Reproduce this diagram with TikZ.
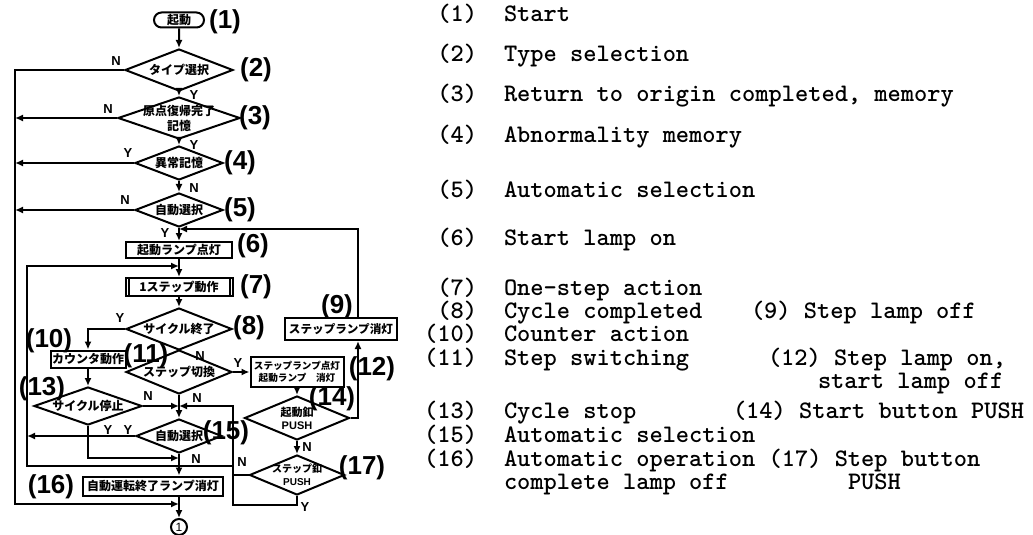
\documentclass[tikz,border=0pt]{standalone}
\usepackage{fontspec}
\newfontfamily\jp{Noto Sans CJK JP}
\newfontfamily\lab{Liberation Sans}
\usepackage{tikz}
\usetikzlibrary{arrows.meta, positioning, calc, shapes.geometric, shapes.misc}

\begin{document}
\begin{tikzpicture}[x=0.5pt, y=-0.5pt, line width=1pt,
  dec/.style 2 args={diamond, draw, inner sep=0pt, minimum width=#1, minimum height=#2},
  proc/.style 2 args={rectangle, draw, inner sep=0pt, minimum width=#1, minimum height=#2,
              font=\jp\bfseries\fontsize{6}{7.5}\selectfont, align=center},
  jtxt/.style={font=\jp\bfseries\fontsize{6}{7.5}\selectfont, align=center, inner sep=0pt},
  num/.style={font=\lab\bfseries\fontsize{13}{13}\selectfont, inner sep=0pt},
  yn/.style={font=\lab\bfseries\fontsize{6.5}{6.5}\selectfont, inner sep=0pt},
  arr/.style={-{Latex[length=4pt, width=3.5pt]}},
  leg/.style={font=\ttfamily\bfseries\fontsize{12.6}{13}\selectfont, inner sep=0pt,
              text height=6.5pt, text depth=1.5pt, anchor=west},
  legn/.style={leg, anchor=east}]
  \useasboundingbox (0,0) rectangle (1033,535);
  \fill[white] (0,0) rectangle (1033,535);

  % main column
  \node[rounded rectangle, draw, inner sep=0pt, minimum width=25pt, minimum height=7.5pt,
        font=\jp\bfseries\fontsize{6}{6}\selectfont] (t1) at (179,20) {起動};
  \node[dec={54pt}{21pt}, label={[jtxt]center:タイプ選択}] (d2) at (179,70) {};
  \node[dec={61pt}{21pt}, label={[jtxt]center:原点復帰完了\\記憶}] (d3) at (179,118) {};
  \node[dec={44pt}{17pt}, label={[jtxt]center:異常記憶}] (d4) at (179,163) {};
  \node[dec={44pt}{17pt}, label={[jtxt]center:自動選択}] (d5) at (179,210) {};
  \node[proc={53pt}{8pt}] (b6) at (179,250) {起動ランプ点灯};
  \node[proc={53.5pt}{9pt}] (b7) at (179,287) {1ステップ動作};
  \draw ($(b7.north west)+(4,0)$) -- ($(b7.south west)+(4,0)$)
        ($(b7.north east)+(-4,0)$) -- ($(b7.south east)+(-4,0)$);
  \node[dec={53pt}{21pt}, label={[jtxt]center:サイクル終了}] (d8) at (179,329) {};
  \node[dec={53pt}{22pt}, label={[jtxt]center:ステップ切換}] (d11) at (179,372) {};
  \node[proc={37.5pt}{8.5pt}] (b10) at (88,359) {カウンタ動作};
  \node[dec={54pt}{19pt}, label={[jtxt]center:サイクル停止}] (d13) at (88,406) {};
  \node[dec={43pt}{17pt}, label={[jtxt]center:自動選択}] (d15) at (179,436) {};
  \node[proc={70pt}{9.5pt}] (b16) at (153,486) {自動運転終了ランプ消灯};
  \node[circle, draw, inner sep=0pt, minimum size=8pt, font=\lab\fontsize{6}{6}\selectfont] (c1) at (179,527) {1};

  % step branch
  \node[proc={56pt}{11pt}, font=\jp\bfseries\fontsize{5.8}{7}\selectfont] (b9) at (341,329) {ステップランプ消灯};
  \node[proc={46.5pt}{15pt}, font=\jp\bfseries\fontsize{4.8}{6}\selectfont] (b12) at (297,372) {ステップランプ点灯\\起動ランプ\quad 消灯};
  \node[dec={52.5pt}{22pt}, label={[jtxt, font=\jp\bfseries\fontsize{5.5}{6.5}\selectfont]center:起動釦\\\lab PUSH}] (d14) at (297,418) {};
  \node[dec={47.5pt}{20pt}, label={[jtxt, font=\jp\bfseries\fontsize{5}{6.5}\selectfont]center:ステップ釦\\\lab PUSH}] (d17) at (297,475) {};

  \coordinate (oB) at (15,504);
  \coordinate (jE) at (179,504);
  \coordinate (j6) at (179,229);
  \coordinate (k6) at (358,229);
  \coordinate (j7) at (179,266);
  \coordinate (iL) at (27,266);
  \coordinate (iB) at (27,466);
  \coordinate (j13) at (179,406);
  \coordinate (k17) at (233,406);
  \coordinate (j16) at (179,458);
  \coordinate (k14) at (358,418);
  \coordinate (kY) at (233,505);

  \draw[arr] (t1) -- (d2);
  \draw[arr] (d2) -- (d3);
  \draw[arr] (d3) -- (d4);
  \draw[arr] (d4) -- (d5);
  \draw[arr] (d5) -- (b6);
  \draw[arr] (b6) -- (b7);
  \draw[arr] (b7) -- (d8);
  \draw[arr] (d11) -- (d15);
  \draw[arr] (d15.south) -- (d15.south |- b16.north);
  \draw[arr] (c1 |- b16.south) -- (c1);
  \draw[arr] (d2.west) -| (oB) -- (jE);
  \draw[arr] (d3.west) -- (d3.west -| oB);
  \draw[arr] (d4.west) -- (d4.west -| oB);
  \draw[arr] (d5.west) -- (d5.west -| oB);
  \draw[arr] (b9.north -| k6) -- (k6) -- (j6);
  \draw[arr] (d14.east) -- (k14) -- (k14 |- b9.south);
  \draw[arr] (d8.west) -| (b10.north);
  \draw[arr] (b10) -- (d13);
  \draw[arr] (d13.east) -- (j13);
  \draw[arr] (d13.south) |- (j16);
  \draw[arr] (d11.east) -- (d11.east -| b12.west);
  \draw[arr] (b12) -- (d14);
  \draw[arr] (d14) -- (d17);
  \draw[arr] (d17.west) -| (k17) -- (j13);
  \draw[arr] (d17.south) |- (kY) -- (kY |- iB) -- (iB) -- (iL) -- (j7);
  \draw[arr] (d15.west) -- (d15.west -| iL);

  % Y / N
  \node[yn] (n2) at (116,61) {N};   \node[yn] (y2) at (194,95) {Y};
  \node[yn] (n3) at (108,109) {N};  \node[yn] (y3) at (194,145) {Y};
  \node[yn] (y4) at (128,153) {Y};  \node[yn] (n4) at (194,188) {N};
  \node[yn] (n5) at (125,200) {N};  \node[yn] (y5) at (165,233) {Y};
  \node[yn] (y8) at (120,318) {Y};  \node[yn] (n8) at (200,356) {N};
  \node[yn] (y11) at (238,363) {Y}; \node[yn] (n11) at (197,398) {N};
  \node[yn] (n13) at (148,396) {N}; \node[yn] (y13) at (108,430) {Y};
  \node[yn] (y15) at (128,430) {Y}; \node[yn] (n15) at (196,459) {N};
  \node[yn] (n14) at (307,447) {N};
  \node[yn] (n17) at (242,462) {N}; \node[yn] (y17) at (305,507) {Y};

  % step numbers
  \node[num] (l1) at (225,22) {(1)};
  \node[num] (l2) at (256,70) {(2)};
  \node[num] (l3) at (255,118) {(3)};
  \node[num] (l4) at (240,163) {(4)};
  \node[num] (l5) at (240,210) {(5)};
  \node[num] (l6) at (253,246) {(6)};
  \node[num] (l7) at (256,287) {(7)};
  \node[num] (l8) at (249,328) {(8)};
  \node[num] (l9) at (337,307) {(9)};
  \node[num] (l10) at (49,341) {(10)};
  \node[num] (l11) at (146,356) {(11)};
  \node[num] (l12) at (372,369) {(12)};
  \node[num] (l13) at (42,389) {(13)};
  \node[num] (l14) at (332,399) {(14)};
  \node[num] (l15) at (226,433) {(15)};
  \node[num] (l16) at (51,487) {(16)};
  \node[num] (l17) at (362,468) {(17)};

  % legend
  \node[legn] (g1) at (478,17) {(1)};   \node[leg] (t1l) at (503,17) {Start};
  \node[legn] (g2) at (478,57) {(2)};   \node[leg] (t2l) at (503,57) {Type selection};
  \node[legn] (g3) at (478,97) {(3)};   \node[leg] (t3l) at (503,97) {Return to origin completed, memory};
  \node[legn] (g4) at (478,137) {(4)};  \node[leg] (t4l) at (503,137) {Abnormality memory};
  \node[legn] (g5) at (478,193) {(5)};  \node[leg] (t5l) at (503,193) {Automatic selection};
  \node[legn] (g6) at (478,240) {(6)};  \node[leg] (t6l) at (503,240) {Start lamp on};
  \node[legn] (g7) at (478,290) {(7)};  \node[leg] (t7l) at (503,290) {One-step action};
  \node[legn] (g8) at (478,313) {(8)};  \node[leg] (t8l) at (503,313) {Cycle completed};
  \node[leg] (t9l) at (750,313) {(9) Step lamp off};
  \node[legn] (g10) at (478,336) {(10)}; \node[leg] (t10l) at (503,336) {Counter action};
  \node[legn] (g11) at (478,360) {(11)}; \node[leg] (t11l) at (503,360) {Step switching};
  \node[leg] (t12l) at (767,360) {(12) Step lamp on,};
  \node[leg] (t12m) at (817,383) {start lamp off};
  \node[legn] (g13) at (478,413) {(13)}; \node[leg] (t13l) at (503,413) {Cycle stop};
  \node[leg] (t14l) at (732,413) {(14) Start button PUSH};
  \node[legn] (g15) at (478,437) {(15)}; \node[leg] (t15l) at (503,437) {Automatic selection};
  \node[legn] (g16) at (478,461) {(16)}; \node[leg] (t16l) at (503,461) {Automatic operation (17) Step button};
  \node[leg] (t16m) at (503,484) {complete lamp off};
  \node[leg] (t17m) at (847,484) {PUSH};
\end{tikzpicture}
\end{document}
